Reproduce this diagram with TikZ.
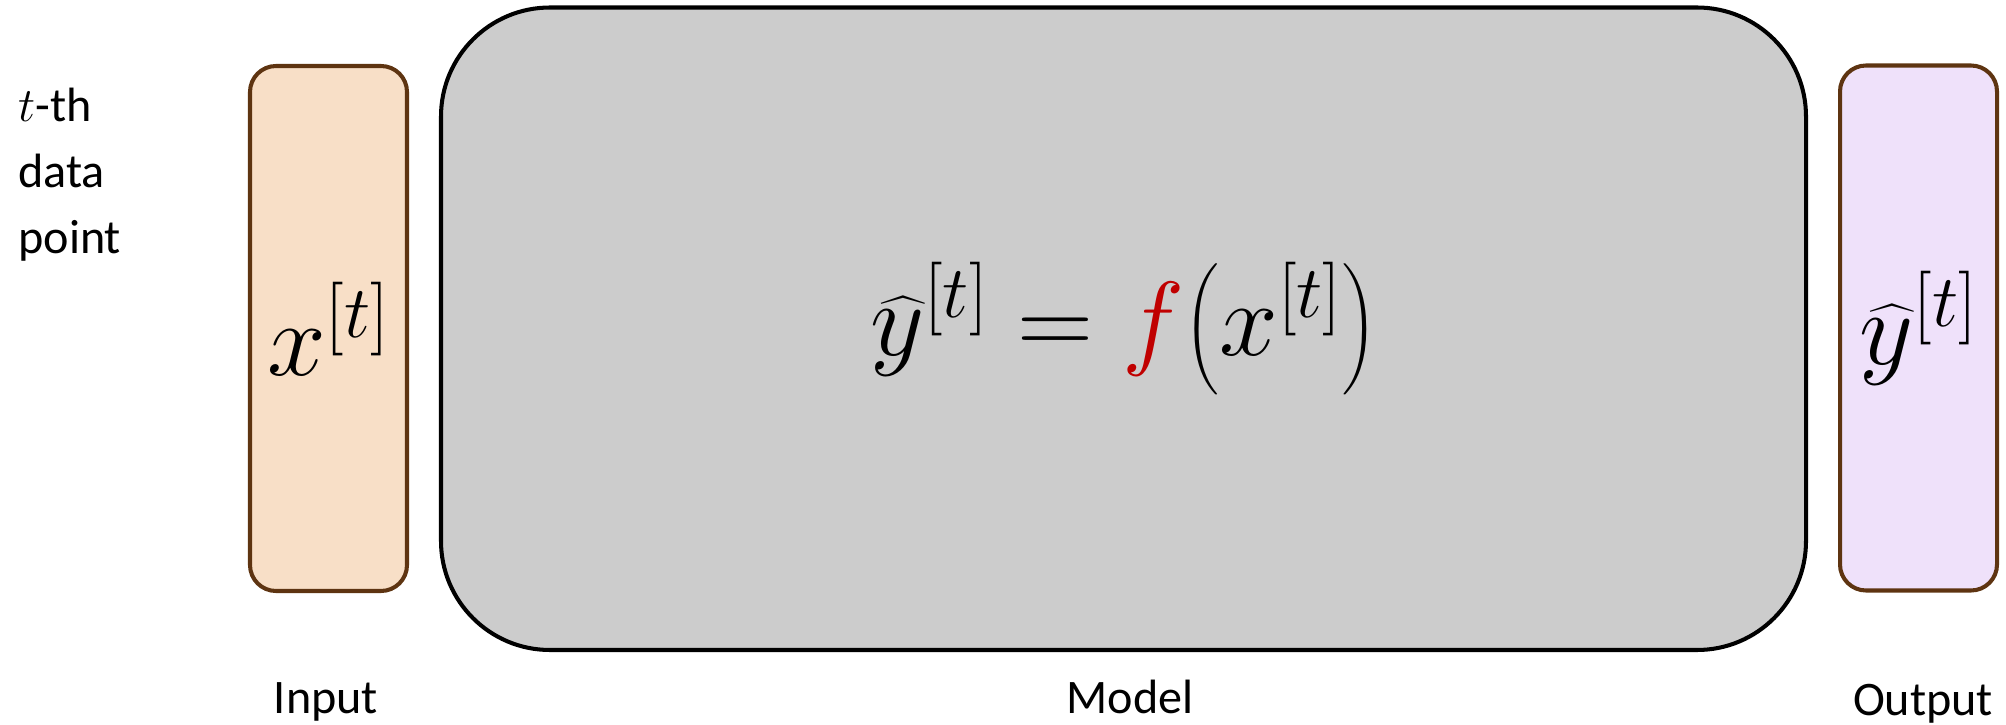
\documentclass[tikz,border=0pt]{standalone}
\usepackage{fix-cm}
\usepackage{exscale}
\usepackage{fontspec}
\setmainfont{Carlito}
\definecolor{brownline}{HTML}{5E3411}
\definecolor{inputfill}{HTML}{F8DFC7}
\definecolor{outputfill}{HTML}{EFE1FA}
\definecolor{modelfill}{HTML}{CCCCCC}
\definecolor{fred}{HTML}{C00000}
\begin{document}
\begin{tikzpicture}[
	smallbox/.style={draw=brownline,line width=2.3pt,rounded corners=0.52cm,
		minimum width=3.14cm,minimum height=10.5cm,inner sep=0pt,eqfont},
	modelbox/.style={draw=black,fill=modelfill,line width=2.3pt,rounded corners=2.18cm,
		minimum width=27.3cm,minimum height=12.85cm,inner sep=0pt,eqfont},
	eqfont/.style={font=\fontsize{60}{72}\selectfont},
	caption/.style={font=\fontsize{27.4}{37.5}\selectfont,anchor=base}]
	\useasboundingbox (0,0) rectangle (40.12,-14.5);
	% the three blocks
	\node[smallbox,fill=inputfill] (input) at (6.57,-6.57) {$x^{[t]}$};
	\node[modelbox] (model) at (22.47,-6.575) {$\widehat{y}^{[t]} = {\color{fred}f}\bigl(x^{[t]}\bigr)$};
	\node[smallbox,fill=outputfill] (output) at (38.37,-6.56) {$\widehat{y}^{[t]}$};
	% captions
	\node[caption] (inlabel) at (6.52,-14.26) {Input};
	\node[caption] (modlabel) at (22.6,-14.26) {Model};
	\node[caption] (outlabel) at (38.46,-14.3) {Output};
	\node[caption,align=left,anchor=north west,inner sep=0pt] (tlabel) at (0.36,-1.75) {$t$-th\\data\\point};
\end{tikzpicture}
\end{document}
